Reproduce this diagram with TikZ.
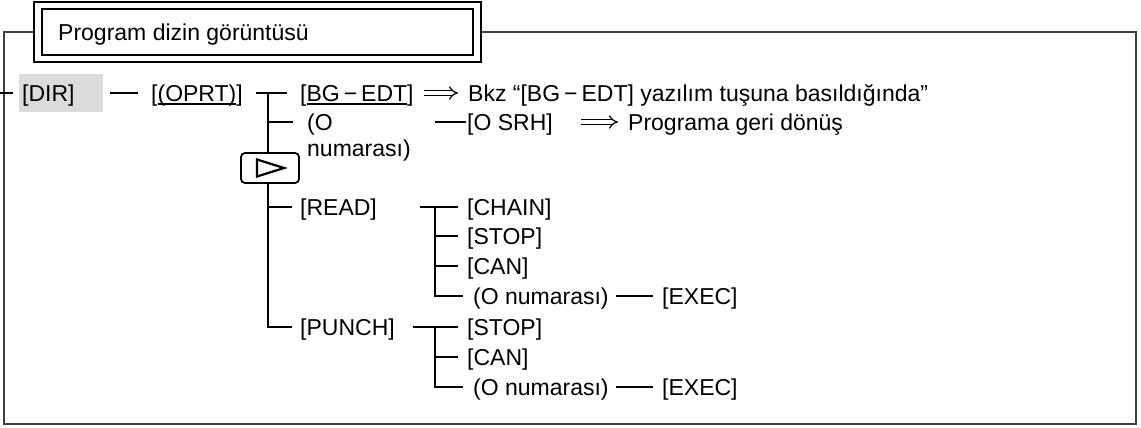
\documentclass[tikz,border=0pt]{standalone}
\usepackage{fontspec}
\setmainfont{Liberation Sans}
\usetikzlibrary{arrows.meta}
\definecolor{dirgray}{HTML}{DCDCDC}
\definecolor{framec}{HTML}{404040}
\newcommand\myul[1]{\setbox0\hbox{#1}\rlap{\rule[-3.5pt]{\wd0}{2.2pt}}\box0}
\newcommand\bgm{\hspace{4pt}−\hspace{4pt}}
\begin{document}
\begin{tikzpicture}[x=1pt,y=-1pt, font=\fontsize{23}{27}\selectfont,
 txt/.style={anchor=west, inner sep=0pt, text height=16.5pt, text depth=0pt},
 conn/.style={line width=1.8pt, black},
 dbl/.style={double, double distance=3.4pt, line width=1.2pt, -{Implies}}]
\useasboundingbox (0,0) rectangle (1141,428);
% frame
\draw[framec, line width=1.5pt] (34,32) -- (4,32) -- (4,424) -- (1136,424) -- (1136,32) -- (481,32);
% title
\draw[line width=2pt, fill=white] (34,2) rectangle (481,62);
\draw[line width=1.2pt] (42,9) rectangle (473,55);
\node[txt] (title) at (58,32) {Program dizin görüntüsü};
% left tick
\coordinate (tickL) at (0,93);
\draw[conn] (tickL) -- ++(13,0);
% nodes
\node[txt, fill=dirgray, text width=78pt, align=left, inner xsep=3pt, minimum height=38pt] (dir) at (19,93) {[DIR]};
\node[txt] (oprt) at (151,93) {[\myul{(OPRT)}]};
\node[txt] (bgedt) at (300,93) {[\myul{BG\bgm EDT}]};
\node[txt] (bkz) at (468,93) {Bkz “[BG\bgm EDT] yazılım tuşuna basıldığında”};
\node[txt] (on1) at (307,122) {(O};
\node[txt] (on2) at (307,148) {numarası)};
\node[txt] (osrh) at (467,122) {[O SRH]};
\node[txt] (geri) at (628,122) {Programa geri dönüş};
\node[txt] (read) at (300,207) {[READ]};
\node[txt] (chain) at (467,207) {[CHAIN]};
\node[txt] (stop1) at (467,236) {[STOP]};
\node[txt] (can1) at (467,266) {[CAN]};
\node[txt] (onum1) at (473,296) {(O numarası)};
\node[txt] (exec1) at (662,296) {[EXEC]};
\node[txt] (punch) at (300,327) {[PUNCH]};
\node[txt] (stop2) at (467,327) {[STOP]};
\node[txt] (can2) at (467,357) {[CAN]};
\node[txt] (onum2) at (473,387) {(O numarası)};
\node[txt] (exec2) at (662,387) {[EXEC]};
\coordinate (j1) at (268,93);
\coordinate (j2) at (435,207);
\coordinate (j3) at (435,327);
% connectors
\draw[conn] ([xshift=7]dir.east) -- ([xshift=-13]oprt.west);
\draw[conn] ([xshift=13]oprt.east) -- ([xshift=-13]bgedt.west);
\draw[conn] (j1) |- ([xshift=-8]punch.west);
\draw[conn] (j1 |- on1.west) -- ([xshift=-14]on1.west);
\draw[conn] (j1 |- read.west) -- ([xshift=-8]read.west);
\draw[conn] ([xshift=-32]osrh.west) -- ([xshift=-1]osrh.west);
\draw[dbl] ([xshift=10]bgedt.east) -- ([xshift=-10]bkz.west);
\draw[dbl] ([xshift=28]osrh.east) -- ([xshift=-10]geri.west);
\draw[conn] ([xshift=43]read.east) -- ([xshift=-9]chain.west);
\draw[conn] (j2) |- ([xshift=-10]onum1.west);
\draw[conn] (j2 |- stop1.west) -- ([xshift=-9]stop1.west);
\draw[conn] (j2 |- can1.west) -- ([xshift=-9]can1.west);
\draw[conn] ([xshift=7]onum1.east) -- ([xshift=-9]exec1.west);
\draw[conn] ([xshift=18]punch.east) -- ([xshift=-9]stop2.west);
\draw[conn] (j3) |- ([xshift=-10]onum2.west);
\draw[conn] (j3 |- can2.west) -- ([xshift=-9]can2.west);
\draw[conn] ([xshift=7]onum2.east) -- ([xshift=-9]exec2.west);
% key box
\node[draw, line width=1.8pt, rounded corners=4pt, fill=white, minimum width=58pt, minimum height=30pt, inner sep=0pt] (key) at (270,168) {};
\draw[line width=2.2pt, line join=miter] (257,159.5) -- (284,168) -- (257,176.5) -- cycle;
\end{tikzpicture}
\end{document}
